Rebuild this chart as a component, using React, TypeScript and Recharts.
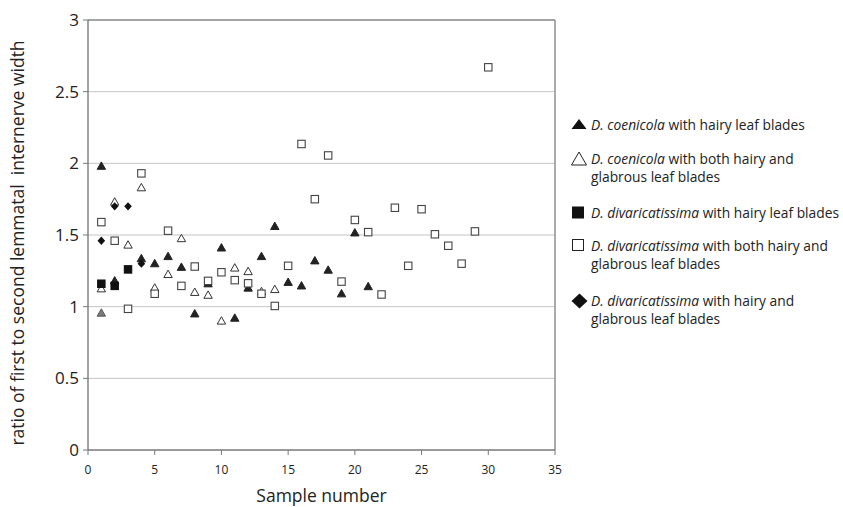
import React from 'react';
import { ScatterChart, Scatter, XAxis, YAxis, CartesianGrid, ReferenceLine } from 'recharts';

const xTicks = [0, 5, 10, 15, 20, 25, 30, 35];
const yTicks = [0, 0.5, 1, 1.5, 2, 2.5, 3];

const coenicolaHairy = [
  { x: 1, y: 1.98 }, { x: 2, y: 1.18 }, { x: 4, y: 1.335 }, { x: 5, y: 1.3 },
  { x: 6, y: 1.35 }, { x: 7, y: 1.275 }, { x: 8, y: 0.95 }, { x: 9, y: 1.16 },
  { x: 10, y: 1.41 }, { x: 11, y: 0.92 }, { x: 12, y: 1.13 }, { x: 13, y: 1.35 },
  { x: 14, y: 1.56 }, { x: 15, y: 1.17 }, { x: 16, y: 1.145 }, { x: 17, y: 1.32 },
  { x: 18, y: 1.255 }, { x: 19, y: 1.09 }, { x: 20, y: 1.515 }, { x: 21, y: 1.14 },
];
const coenicolaBoth = [
  { x: 1, y: 1.125 }, { x: 2, y: 1.73 }, { x: 3, y: 1.43 }, { x: 4, y: 1.83 },
  { x: 5, y: 1.13 }, { x: 6, y: 1.225 }, { x: 7, y: 1.475 }, { x: 8, y: 1.1 },
  { x: 9, y: 1.08 }, { x: 10, y: 0.9 }, { x: 11, y: 1.27 }, { x: 12, y: 1.245 },
  { x: 13, y: 1.105 }, { x: 14, y: 1.12 },
];
const coenicolaGrey = [{ x: 1, y: 0.955 }];
const divaricatissimaHairy = [{ x: 1, y: 1.16 }, { x: 2, y: 1.145 }, { x: 3, y: 1.26 }];
const divaricatissimaBoth = [
  { x: 1, y: 1.59 }, { x: 2, y: 1.46 }, { x: 3, y: 0.985 }, { x: 4, y: 1.93 },
  { x: 5, y: 1.09 }, { x: 6, y: 1.53 }, { x: 7, y: 1.145 }, { x: 8, y: 1.28 },
  { x: 9, y: 1.18 }, { x: 10, y: 1.24 }, { x: 11, y: 1.185 }, { x: 12, y: 1.163 },
  { x: 13, y: 1.09 }, { x: 14, y: 1.005 }, { x: 15, y: 1.285 }, { x: 16, y: 2.135 },
  { x: 17, y: 1.75 }, { x: 18, y: 2.055 }, { x: 19, y: 1.175 }, { x: 20, y: 1.605 },
  { x: 21, y: 1.52 }, { x: 22, y: 1.085 }, { x: 23, y: 1.69 }, { x: 24, y: 1.285 },
  { x: 25, y: 1.68 }, { x: 26, y: 1.505 }, { x: 27, y: 1.425 }, { x: 28, y: 1.3 },
  { x: 29, y: 1.525 }, { x: 30, y: 2.67 },
];
const divaricatissimaMixed = [{ x: 1, y: 1.46 }, { x: 2, y: 1.7 }, { x: 3, y: 1.7 }, { x: 4, y: 1.3 }];

const FONT = "'Open Sans', sans-serif";

const triangle = (fill: string, stroke: string) => (p: any) => {
  const { cx, cy } = p;
  if (cx == null || cy == null) return <g />;
  return (
    <path
      d={`M${cx},${cy - 4.3}L${cx + 4.2},${cy + 3.1}L${cx - 4.2},${cy + 3.1}Z`}
      fill={fill}
      stroke={stroke}
      strokeWidth={1}
    />
  );
};
const square = (fill: string, stroke: string) => (p: any) => {
  const { cx, cy } = p;
  if (cx == null || cy == null) return <g />;
  return <rect x={cx - 3.7} y={cy - 3.7} width={7.4} height={7.4} fill={fill} stroke={stroke} strokeWidth={1.1} />;
};
const diamond = (fill: string) => (p: any) => {
  const { cx, cy } = p;
  if (cx == null || cy == null) return <g />;
  return <path d={`M${cx},${cy - 4.2}L${cx + 3.8},${cy}L${cx},${cy + 4.2}L${cx - 3.8},${cy}Z`} fill={fill} />;
};

const XTitle = () => (
  <text x={321.5} y={502} textAnchor="middle" fontSize={17.5} fontFamily={FONT} fill="#222">
    Sample number
  </text>
);
const YTitle = () => (
  <text
    transform="translate(24,243) rotate(-90)"
    textAnchor="middle"
    fontSize={17.5}
    fontFamily={FONT}
    fill="#222"
    style={{ whiteSpace: 'pre' }}
  >
    {'ratio of first to second lemmatal  internerve width'}
  </text>
);

const LegendSymbol = ({ kind }: { kind: string }) => {
  let el: any = null;
  if (kind === 'triFilled') el = <path d="M8,2 L15.5,12 L0.5,12 Z" fill="#111" />;
  if (kind === 'triOpen') el = <path d="M8,1 L15.5,14 L0.5,14 Z" fill="#fff" stroke="#222" strokeWidth={1} />;
  if (kind === 'sqFilled') el = <rect x={1} y={1.5} width={12} height={12} fill="#111" />;
  if (kind === 'sqOpen') el = <rect x={1.5} y={1.5} width={11} height={11} fill="#fff" stroke="#222" strokeWidth={1} />;
  if (kind === 'diamond') el = <path d="M8.5,0.5 L16.5,8 L8.5,15.5 L0.5,8 Z" fill="#111" />;
  return (
    <svg width={17} height={16} style={{ position: 'absolute', left: 0, top: -8, overflow: 'visible' }}>
      {el}
    </svg>
  );
};

const legendItems = [
  { kind: 'triFilled', name: 'D. coenicola', rest: ' with hairy leaf blades', second: '', y: 125 },
  { kind: 'triOpen', name: 'D. coenicola', rest: ' with both hairy and', second: 'glabrous leaf blades', y: 159 },
  { kind: 'sqFilled', name: 'D. divaricatissima', rest: ' with hairy leaf blades', second: '', y: 213 },
  { kind: 'sqOpen', name: 'D. divaricatissima', rest: ' with both hairy and', second: 'glabrous leaf blades', y: 246 },
  { kind: 'diamond', name: 'D. divaricatissima', rest: ' with hairy and', second: 'glabrous leaf blades', y: 301 },
];

const LegendBox = () => (
  <div style={{ position: 'absolute', left: 0, top: 0, fontFamily: FONT, fontSize: 13.8, color: '#222' }}>
    {legendItems.map((it, i) => (
      <React.Fragment key={i}>
        <div style={{ position: 'absolute', left: 571, top: it.y, width: 17, height: 0 }}>
          <LegendSymbol kind={it.kind} />
        </div>
        <div style={{ position: 'absolute', left: 591, top: it.y - 10, whiteSpace: 'nowrap', lineHeight: '20px' }}>
          <i>{it.name}</i>
          {it.rest}
        </div>
        {it.second ? (
          <div style={{ position: 'absolute', left: 591, top: it.y + 18 - 10, whiteSpace: 'nowrap', lineHeight: '20px' }}>
            {it.second}
          </div>
        ) : null}
      </React.Fragment>
    ))}
  </div>
);

export default function App() {
  return (
    <div style={{ position: 'absolute', left: 0, top: 0, width: 843, height: 507, background: '#fff', overflow: 'hidden' }}>
      <ScatterChart
        width={843}
        height={507}
        margin={{ top: 20, right: 288, bottom: 0, left: 0 }}
        style={{ fontFamily: FONT }}
      >
        <CartesianGrid horizontal vertical={false} stroke="#c4c4c4" strokeWidth={1} />
        <XAxis
          type="number"
          dataKey="x"
          domain={[0, 35]}
          ticks={xTicks}
          interval={0}
          height={57}
          tickSize={5}
          tickMargin={10}
          axisLine={{ stroke: '#555', strokeWidth: 1.2 }}
          tickLine={{ stroke: '#777' }}
          tick={{ fontSize: 12, fill: '#222', fontFamily: FONT }}
          label={XTitle}
        />
        <YAxis
          type="number"
          dataKey="y"
          domain={[0, 3]}
          ticks={yTicks}
          interval={0}
          width={88}
          tickSize={5}
          tickMargin={4}
          axisLine={{ stroke: '#666', strokeWidth: 1.2 }}
          tickLine={{ stroke: '#777' }}
          tick={{ fontSize: 17, fill: '#222', fontFamily: FONT }}
          tickFormatter={(v: number) => String(v)}
          label={YTitle}
        />
        <ReferenceLine y={3} stroke="#8f8f8f" strokeWidth={1.5} />
        <ReferenceLine x={35} stroke="#8f8f8f" strokeWidth={1.5} />
        <Scatter name="D. coenicola with hairy leaf blades" data={coenicolaHairy} shape={triangle('#222', '#222')} isAnimationActive={false} />
        <Scatter name="D. coenicola with both hairy and glabrous leaf blades" data={coenicolaBoth} shape={triangle('#fff', '#333')} isAnimationActive={false} />
        <Scatter name="grey" data={coenicolaGrey} shape={triangle('#7a7a7a', '#5a5a5a')} legendType="none" isAnimationActive={false} />
        <Scatter name="D. divaricatissima with hairy leaf blades" data={divaricatissimaHairy} shape={square('#111', '#111')} isAnimationActive={false} />
        <Scatter name="D. divaricatissima with both hairy and glabrous leaf blades" data={divaricatissimaBoth} shape={square('#fff', '#444')} isAnimationActive={false} />
        <Scatter name="D. divaricatissima with hairy and glabrous leaf blades" data={divaricatissimaMixed} shape={diamond('#111')} isAnimationActive={false} />
      </ScatterChart>
      <LegendBox />
    </div>
  );
}
